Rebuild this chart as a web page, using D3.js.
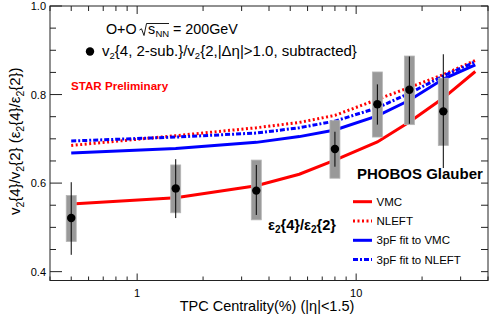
<!DOCTYPE html>
<html>
<head>
<meta charset="utf-8">
<script src="https://cdn.jsdelivr.net/npm/d3@7"></script>
<style>
  body { margin: 0; background: #fff; }
  svg { font-family: "Liberation Sans", Arial, Helvetica, sans-serif; }
</style>
</head>
<body>
<div id="chart"></div>
<script>
// data points: v2{4,2-sub}/v2{2,|dEta|>1.0}
const centrality = [0.5, 1.5, 3.5, 8, 12.5, 17.5, 25];
const ratio = [0.521, 0.588, 0.583, 0.677, 0.778, 0.811, 0.762];
const statLo = [0.438, 0.521, 0.528, 0.637, 0.732, 0.734, 0.634];
const statHi = [0.602, 0.654, 0.641, 0.716, 0.823, 0.886, 0.891];
const sysLo = [0.468, 0.533, 0.517, 0.611, 0.704, 0.732, 0.685];
const sysHi = [0.572, 0.641, 0.652, 0.741, 0.851, 0.887, 0.837];

// Glauber model curves eps2{4}/eps2{2}
const modelCent = [0.5, 1.5, 3.5, 5.5, 8, 12.5, 17.5, 25, 35];
const vmc = [0.553, 0.567, 0.594, 0.620, 0.652, 0.693, 0.738, 0.792, 0.852];
const nleft = [0.685, 0.707, 0.725, 0.737, 0.753, 0.789, 0.816, 0.845, 0.877];
const fitVmc = [0.668, 0.678, 0.692, 0.705, 0.720, 0.752, 0.787, 0.835, 0.867];
const fitNleft = [0.695, 0.704, 0.713, 0.725, 0.740, 0.770, 0.803, 0.842, 0.874];

const yTicks = [0.4, 0.6, 0.8, 1.0];
const xTickLabels = [1, 10];

const W = 498, H = 319;
const m = { left: 50, right: 10, top: 6, bottom: 38.5 };

const svg = d3.select("#chart").append("svg").attr("width", W).attr("height", H);

const x = d3.scaleLog().domain([0.4, 40]).range([m.left, W - m.right]);
const y = d3.scaleLinear().domain([0.38, 1.0]).range([H - m.bottom, m.top]);

const x0 = x.range()[0], x1 = x.range()[1], y0 = y.range()[0], y1 = y.range()[1];

// model curves (drawn first, boxes cover them)
const curves = [
  { vals: vmc, color: "#ff0000", dash: null, name: "VMC" },
  { vals: nleft, color: "#ff0000", dash: "2,2.5", name: "NLEFT" },
  { vals: fitVmc, color: "#0000ff", dash: null, name: "3pF fit to VMC" },
  { vals: fitNleft, color: "#0000ff", dash: "5,2,2,2", name: "3pF fit to NLEFT" }
];
const line = d3.line().x(d => x(d[0])).y(d => y(d[1]));
curves.forEach(c => {
  svg.append("path")
    .datum(modelCent.map((cc, i) => [cc, c.vals[i]]))
    .attr("d", line)
    .attr("fill", "none")
    .attr("stroke", c.color)
    .attr("stroke-width", 3)
    .attr("stroke-dasharray", c.dash);
});

// systematic boxes
const pts = centrality.map((c, i) => ({ c, v: ratio[i], sl: statLo[i], sh: statHi[i], yl: sysLo[i], yh: sysHi[i] }));
svg.selectAll(".sys").data(pts).join("rect")
  .attr("x", d => x(d.c) - 5)
  .attr("width", 10)
  .attr("y", d => y(d.yh))
  .attr("height", d => y(d.yl) - y(d.yh))
  .attr("fill", "#999")
  .attr("stroke", "#b5b5b5")
  .attr("stroke-width", 0.8);

svg.selectAll(".stat").data(pts).join("line")
  .attr("x1", d => x(d.c)).attr("x2", d => x(d.c))
  .attr("y1", d => y(d.sl)).attr("y2", d => y(d.sh))
  .attr("stroke", "#000").attr("stroke-width", 1);

svg.selectAll(".pt").data(pts).join("circle")
  .attr("cx", d => x(d.c)).attr("cy", d => y(d.v)).attr("r", 4.2)
  .attr("fill", "#000");

// frame
svg.append("rect").attr("x", x0).attr("y", y1).attr("width", x1 - x0).attr("height", y0 - y1)
  .attr("fill", "none").attr("stroke", "#222").attr("stroke-width", 1);

// x ticks (log) on bottom and top
const xMinor = [];
[0.1, 1, 10].forEach(dec => { for (let k = 1; k <= 9; k++) { const v = k * dec; if (v >= 0.4 && v <= 40) xMinor.push(v); } });
xMinor.forEach(v => {
  const major = xTickLabels.includes(v);
  const len = major ? 7 : 4;
  svg.append("line").attr("x1", x(v)).attr("x2", x(v)).attr("y1", y0).attr("y2", y0 - len).attr("stroke", "#222");
  svg.append("line").attr("x1", x(v)).attr("x2", x(v)).attr("y1", y1).attr("y2", y1 + (major ? 8 : 5)).attr("stroke", "#222");
});
svg.selectAll(".xlab").data(xTickLabels).join("text")
  .attr("x", d => x(d)).attr("y", 297).attr("text-anchor", "middle")
  .attr("font-size", 11).text(d => d);

// y ticks
d3.range(0.40, 1.0001, 0.05).forEach(v => {
  const major = yTicks.some(t => Math.abs(t - v) < 1e-6);
  svg.append("line").attr("x1", x0).attr("x2", x0 + (major ? 12 : 6)).attr("y1", y(v)).attr("y2", y(v)).attr("stroke", "#222");
  svg.append("line").attr("x1", x1).attr("x2", x1 - 7).attr("y1", y(v)).attr("y2", y(v)).attr("stroke", "#222");
});
svg.selectAll(".ylab").data(yTicks).join("text")
  .attr("x", 46).attr("y", d => y(d) + 4).attr("text-anchor", "end")
  .attr("font-size", 11).text(d => d.toFixed(1));

// axis titles
svg.append("text").attr("x", (x0 + x1) / 2 - 2).attr("y", 311).attr("text-anchor", "middle")
  .attr("font-size", 14.5).text("TPC Centrality(%) (|η|<1.5)");

const yt = svg.append("text").attr("transform", "translate(20," + ((y0 + y1) / 2 - 2) + ") rotate(-90)")
  .attr("text-anchor", "middle").attr("font-size", 15);
[["v"], ["2", "sub"], ["{4}/v"], ["2", "sub"], ["{2} (ε"], ["2", "sub"], ["{4}/ε"], ["2", "sub"], ["{2})"]].forEach((p, i) => {
  const t = yt.append("tspan").text(p[0]);
  if (p[1]) t.attr("font-size", 10.5).attr("dy", 4);
  else if (i > 0) t.attr("dy", -4);
});

// header text: O+O sqrt(sNN) = 200GeV
svg.append("text").attr("x", 106).attr("y", 34).attr("font-size", 14.3).text("O+O");
svg.append("path").attr("d", "M139.5,30 L141.5,28.8 L144,35.5 L146.5,23.5 L169,23.5")
  .attr("fill", "none").attr("stroke", "#000").attr("stroke-width", 0.9);
svg.append("text").attr("x", 148).attr("y", 34).attr("font-size", 14.3).text("s");
svg.append("text").attr("x", 155.5).attr("y", 37).attr("font-size", 9.5).text("NN");
svg.append("text").attr("x", 173).attr("y", 34).attr("font-size", 14.3).text("= 200GeV");

svg.append("circle").attr("cx", 90).attr("cy", 51.5).attr("r", 4.2).attr("fill", "#000");
const h2 = svg.append("text").attr("x", 102).attr("y", 55.5).attr("font-size", 15);
h2.append("tspan").text("v");
h2.append("tspan").attr("font-size", 9.5).attr("dy", 3).text("2");
h2.append("tspan").attr("dy", -3).text("{4, 2-sub.}/v");
h2.append("tspan").attr("font-size", 9.5).attr("dy", 3).text("2");
h2.append("tspan").attr("dy", -3).text("{2,|Δη|>1.0, subtracted}");

svg.append("text").attr("x", 71).attr("y", 89.5).attr("font-size", 11.6).attr("font-weight", "bold")
  .attr("fill", "#ff0000").text("STAR Preliminary");

svg.append("text").attr("x", 357).attr("y", 178.5).attr("font-size", 15).attr("font-weight", "bold")
  .text("PHOBOS Glauber");

const e = svg.append("text").attr("x", 268).attr("y", 230).attr("font-size", 14.6).attr("font-weight", "bold");
e.append("tspan").text("ε");
e.append("tspan").attr("font-size", 10).attr("dy", 3).text("2");
e.append("tspan").attr("dy", -3).text("{4}/ε");
e.append("tspan").attr("font-size", 10).attr("dy", 3).text("2");
e.append("tspan").attr("dy", -3).text("{2}");

// legend
const legY = [201.7, 221, 240.3, 259.5];
curves.forEach((c, i) => {
  svg.append("line").attr("x1", 353).attr("x2", 372).attr("y1", legY[i]).attr("y2", legY[i])
    .attr("stroke", c.color).attr("stroke-width", 3).attr("stroke-dasharray", c.dash);
  svg.append("text").attr("x", 376.5).attr("y", legY[i] + 4).attr("font-size", 11.5).text(c.name);
});
</script>
</body>
</html>
